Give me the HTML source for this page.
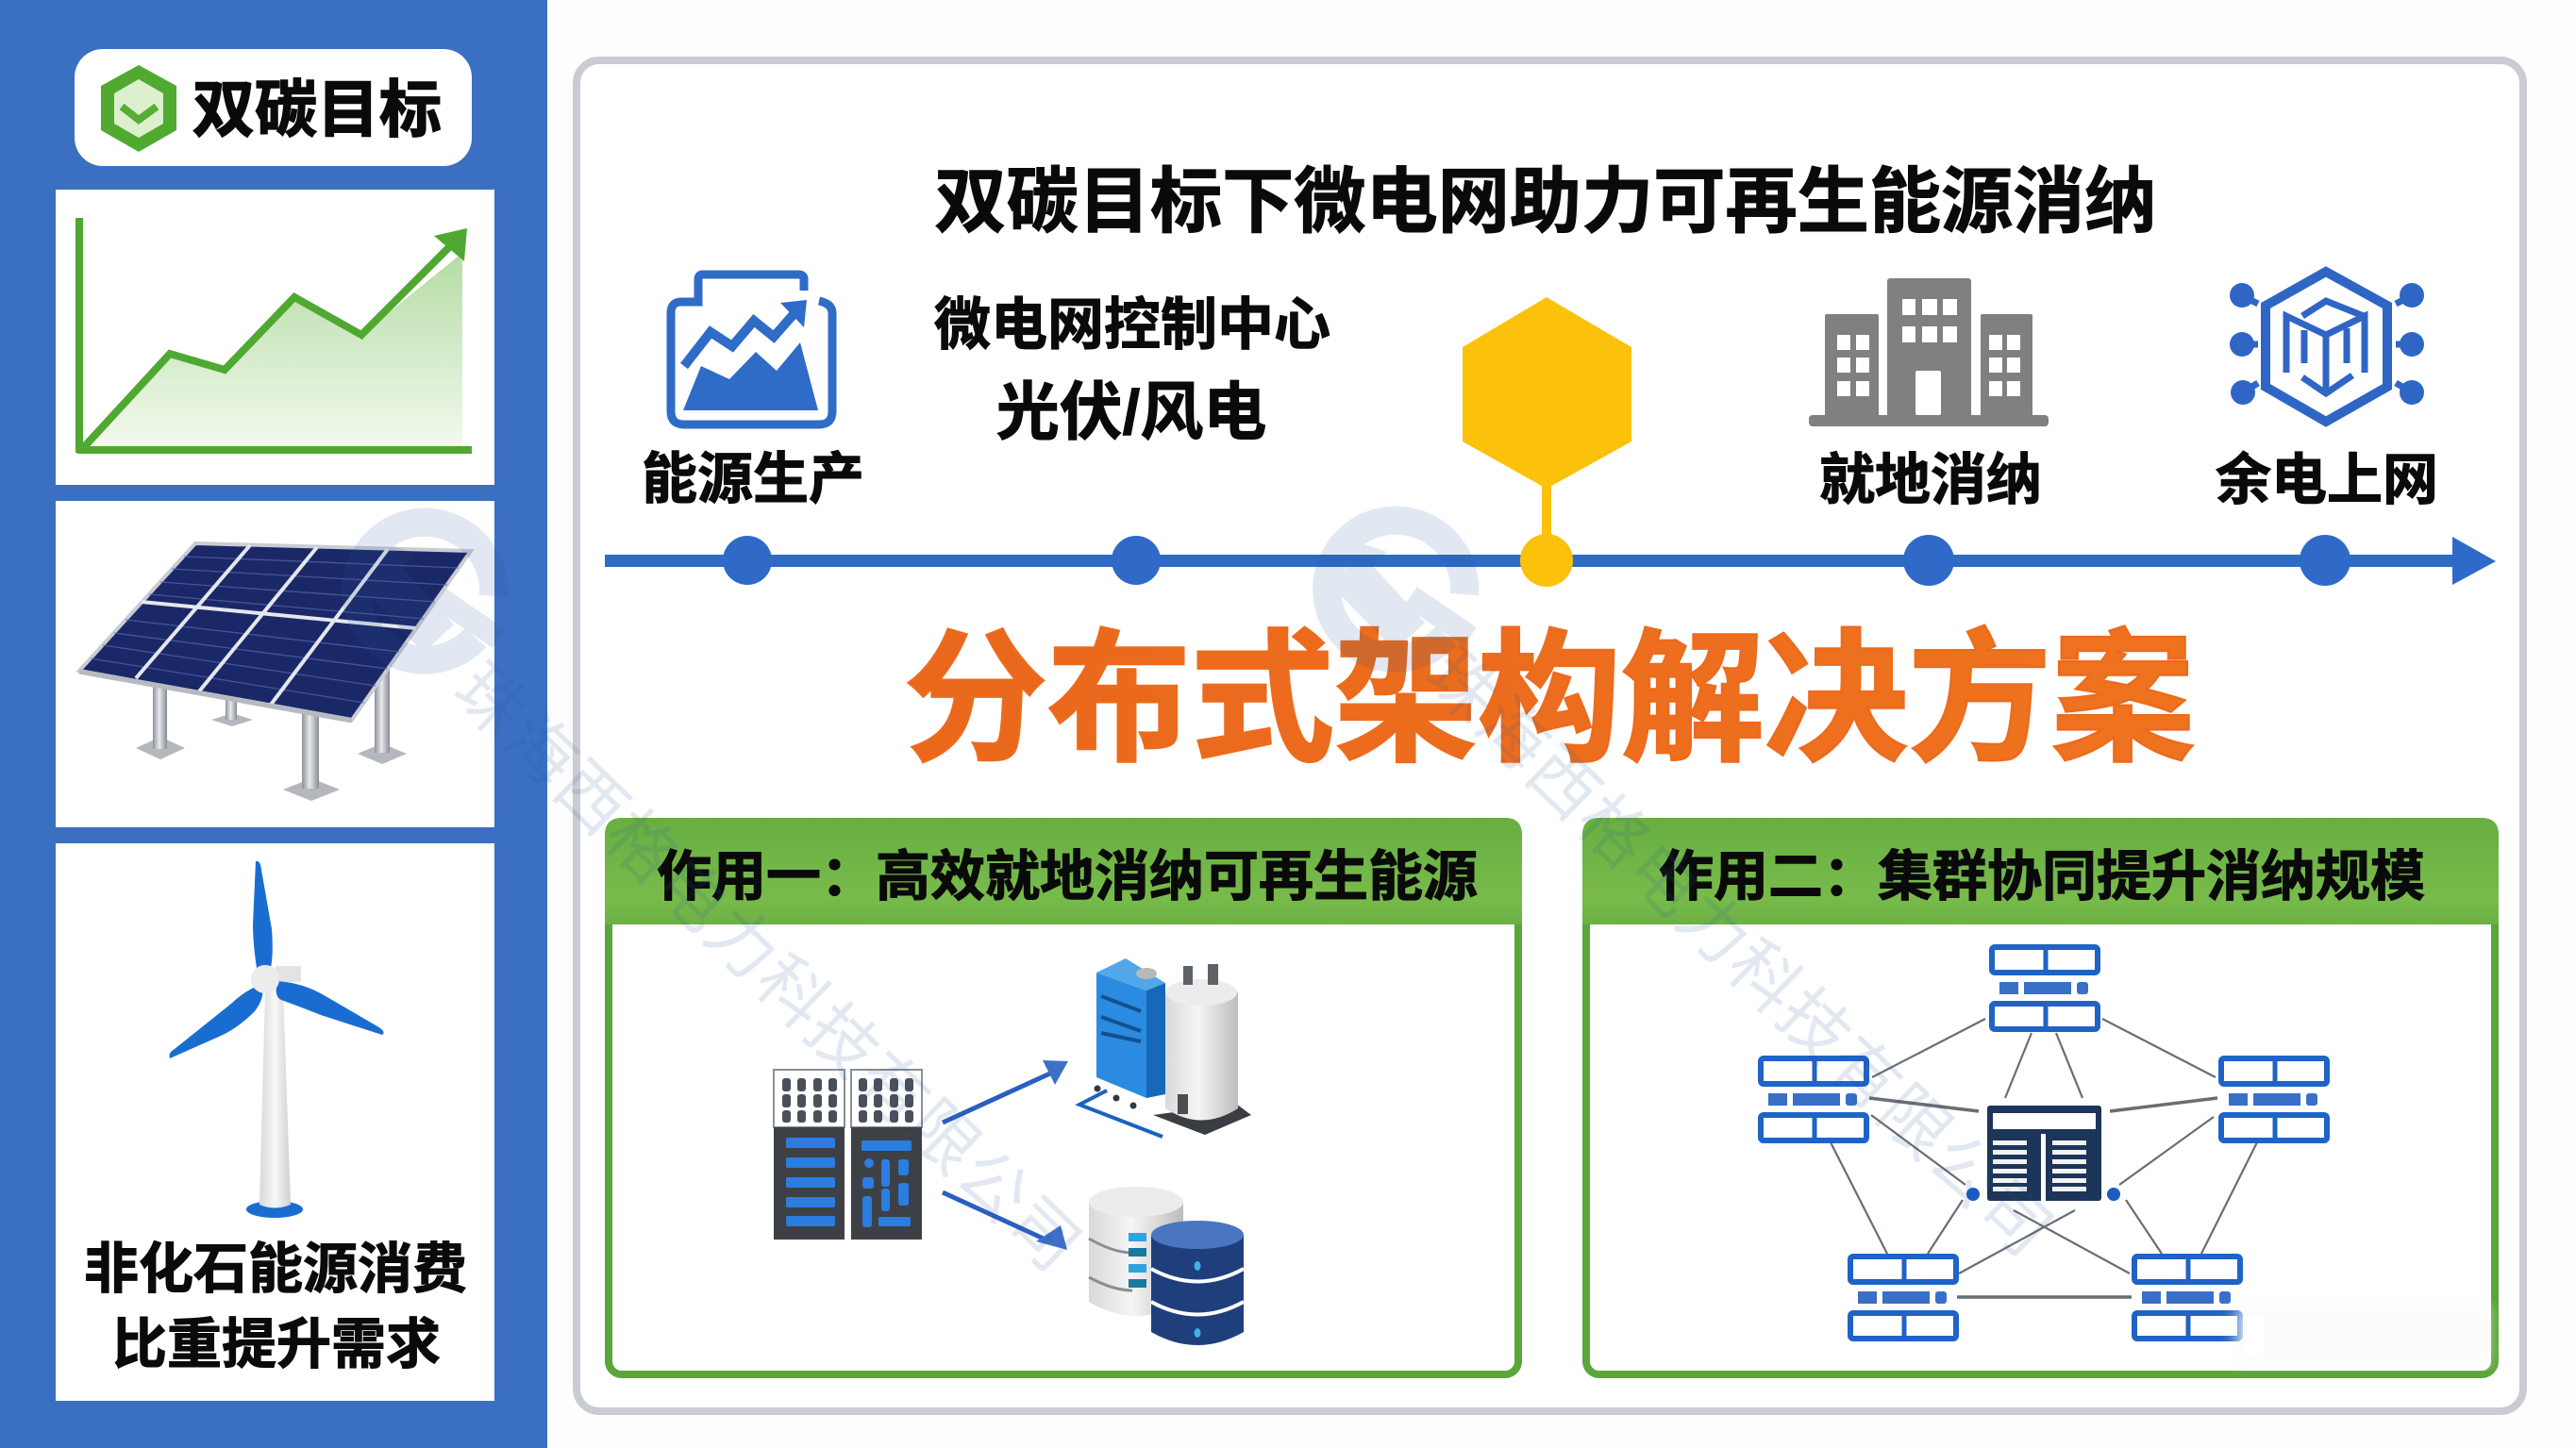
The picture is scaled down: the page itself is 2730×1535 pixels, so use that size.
<!DOCTYPE html>
<html lang="zh"><head><meta charset="utf-8"><title>双碳目标下微电网助力可再生能源消纳</title>
<style>
html,body{margin:0;padding:0;background:#fff;width:2730px;height:1535px;overflow:hidden}
svg{display:block}
text{font-family:"Liberation Sans","Noto Sans CJK SC",sans-serif;font-weight:700;fill:#0a0a0a;stroke:#0a0a0a;stroke-width:1.1px}
</style></head><body>
<svg xmlns="http://www.w3.org/2000/svg" width="2730" height="1535" viewBox="0 0 2730 1535">
<defs>
<linearGradient id="area" x1="0" y1="0" x2="0" y2="1"><stop offset="0" stop-color="#b4dca4"/><stop offset="1" stop-color="#f3faef"/></linearGradient>
<linearGradient id="hdr" x1="0" y1="0" x2="0" y2="1"><stop offset="0" stop-color="#68ae42"/><stop offset=".75" stop-color="#78bb4b"/><stop offset="1" stop-color="#6cb145"/></linearGradient>
<linearGradient id="org" x1="0" y1="0" x2="1" y2="0"><stop offset="0" stop-color="#ea671c"/><stop offset="1" stop-color="#ef731f"/></linearGradient>
<linearGradient id="steel" x1="0" y1="0" x2="1" y2="0"><stop offset="0" stop-color="#8c9198"/><stop offset=".45" stop-color="#e8eaec"/><stop offset="1" stop-color="#878c92"/></linearGradient>
<linearGradient id="tower" x1="0" y1="0" x2="1" y2="0"><stop offset="0" stop-color="#d8d8d8"/><stop offset=".5" stop-color="#f8f8f8"/><stop offset="1" stop-color="#cfcfcf"/></linearGradient>
<linearGradient id="cyl" x1="0" y1="0" x2="1" y2="0"><stop offset="0" stop-color="#d9d9d9"/><stop offset=".45" stop-color="#f5f5f5"/><stop offset="1" stop-color="#bdbdbd"/></linearGradient>
<filter id="bl"><feGaussianBlur stdDeviation="9"/></filter>
<g id="n">
<rect x="3" y="3" width="112" height="27" rx="3" fill="#fff" stroke="#1f63c6" stroke-width="6"/>
<rect x="3" y="63" width="112" height="27" rx="3" fill="#fff" stroke="#1f63c6" stroke-width="6"/>
<path d="M60 2V31M60 62V91" stroke="#1f63c6" stroke-width="5"/>
<rect x="11" y="40" width="20" height="13" fill="#3a6fc8"/><rect x="37" y="40" width="50" height="13" fill="#3a6fc8"/><rect x="93" y="40" width="12" height="13" rx="3" fill="#3a6fc8"/>
</g>
<g id="wm" fill="none" stroke="#2a5a96">
<path d="M1533 674A73 73 0 1 1 1552 630" stroke-width="30"/>
<path d="M1415 625L1478 690L1510 660L1455 600L1470 585L1440 575Z" fill="#2a5a96" stroke="none"/>
<path d="M1495 632L1558 675" stroke-width="24"/>
</g>
</defs>

<rect width="2730" height="1535" fill="#fdfdfd"/>
<!-- sidebar -->
<rect width="580" height="1535" fill="#3b6fc1"/>
<rect x="79" y="52" width="421" height="124" rx="30" fill="#fff"/>
<polygon points="147,69 187,91 187,138 147,161 107,138 107,91" fill="#50aa30"/>
<polygon points="147,84 173,99 173,131 147,146 121,131 121,99" fill="#dcefcf"/>
<path d="M129 113L147 127L166 113" fill="none" stroke="#58ae33" stroke-width="8"/>
<text x="336" y="139" font-size="66" text-anchor="middle" style="stroke-width:1.6px">双碳目标</text>

<rect x="59" y="201" width="465" height="313" fill="#fff"/>
<polygon points="89,476 180,374 238,392 312,314 383,355 490,268 490,476" fill="url(#area)"/>
<path d="M84 231V480M82 477H500" stroke="#4fa832" stroke-width="8" fill="none"/>
<path d="M88 475L180 375L238 392L312 315L383 355L480 258" fill="none" stroke="#4fa832" stroke-width="8"/>
<polygon points="495,242 460,250 492,277" fill="#4fa832"/>

<rect x="59" y="531" width="465" height="346" fill="#fff"/>
<polygon points="170,781 196,793 170,805 144,793" fill="#b4b8bd"/><polygon points="246,756 268,763 246,770 224,763" fill="#b4b8bd"/><polygon points="330,825 360,837 330,849 300,837" fill="#b4b8bd"/><polygon points="405,788 431,799 405,810 379,799" fill="#b4b8bd"/>
<rect x="162" y="722" width="15" height="72" fill="url(#steel)"/><rect x="239" y="735" width="12" height="28" fill="url(#steel)"/><rect x="320" y="750" width="18" height="86" fill="url(#steel)"/><rect x="397" y="700" width="16" height="98" fill="url(#steel)"/>
<polygon points="207,576 499,584 373,763 84,711" fill="#1b2868" stroke="#c9cdd3" stroke-width="4"/>
<g stroke="#5767ac" stroke-width="1.3" opacity=".7">
<path d="M195 590L486 602M182 603L474 620M170 617L461 638M158 630L449 656M133 657L423 691M121 671L411 709M109 684L398 727M96 698L386 745"/>
</g>
<path d="M265 578L144 719M336 580L211 733M411 582L287 747M150 638L441 666" stroke="#e4e7ec" stroke-width="4" fill="none"/>
<path d="M84 712L373 764" stroke="#b6bac0" stroke-width="5"/>

<rect x="59" y="894" width="465" height="591" fill="#fff"/>
<ellipse cx="291" cy="1282" rx="30" ry="9" fill="#1a6dd0"/>
<path d="M281 1050H300L308 1277Q291 1284 275 1277Z" fill="url(#tower)"/>
<rect x="292" y="1024" width="27" height="17" rx="2" fill="#e3e3e3"/>
<path d="M271 913Q276 912 277 922L288 985Q290 1010 287 1026L272 1026Q268 1000 268 980Z" fill="#1a6dd0"/>
<path d="M180 1122Q178 1116 185 1112L245 1064Q262 1048 277 1044Q282 1056 270 1072Q252 1090 234 1098Z" fill="#1a6dd0"/>
<path d="M405 1097Q410 1094 400 1088L345 1056Q322 1042 294 1040Q290 1056 298 1060Q320 1068 340 1076Z" fill="#1a6dd0"/>
<circle cx="281" cy="1038" r="15" fill="#ececec"/>
<text x="292" y="1365" font-size="58" text-anchor="middle">非化石能源消费</text>
<text x="293" y="1445" font-size="58" text-anchor="middle">比重提升需求</text>

<!-- main panel -->
<rect x="611" y="64" width="2063" height="1432" rx="24" fill="#fff" stroke="#c9ccd2" stroke-width="8"/>
<text x="1638" y="240" font-size="76.2" text-anchor="middle">双碳目标下微电网助力可再生能源消纳</text>

<!-- icon 1 -->
<path d="M852 308V296Q852 291 846 291H745Q740 291 740 296V320H722Q711 320 711 332V436Q711 450 725 450H868Q882 450 882 436V332Q882 322 868 319" fill="none" stroke="#2f6cc7" stroke-width="9"/>
<polygon points="724,435 743,388 773,402 801,373 823,393 848,363 867,435" fill="#2f6cc7"/>
<path d="M725 388L753 352L776 367L799 340L820 357L842 332" fill="none" stroke="#2f6cc7" stroke-width="10"/>
<polygon points="855,318 827,321 852,347" fill="#2f6cc7"/>
<text x="798" y="528" font-size="59" text-anchor="middle">能源生产</text>
<text x="1200" y="365" font-size="60" text-anchor="middle">微电网控制中心</text>
<text x="1199" y="460" font-size="67" text-anchor="middle">光伏/风电</text>

<!-- hex -->
<polygon points="1639,315 1729,368 1729,468 1639,518 1550,468 1550,368" fill="#fcc10b"/>
<rect x="1634" y="515" width="10" height="58" fill="#fcc10b"/>

<!-- building -->
<g fill="#808080"><rect x="2000" y="295" width="89" height="150" rx="3"/><rect x="1934" y="333" width="57" height="112" rx="2"/><rect x="2099" y="333" width="55" height="112" rx="2"/><rect x="1917" y="440" width="254" height="12" rx="4"/></g>
<g fill="#fff"><rect x="2016" y="317" width="14" height="17"/><rect x="2037" y="317" width="16" height="17"/><rect x="2059" y="317" width="15" height="17"/><rect x="2016" y="346" width="14" height="17"/><rect x="2037" y="346" width="16" height="17"/><rect x="2059" y="346" width="15" height="17"/><rect x="2030" y="393" width="27" height="47" rx="2"/>
<rect x="1947" y="355" width="14" height="16"/><rect x="1967" y="355" width="14" height="16"/><rect x="1947" y="379" width="14" height="16"/><rect x="1967" y="379" width="14" height="16"/><rect x="1947" y="404" width="14" height="16"/><rect x="1967" y="404" width="14" height="16"/>
<rect x="2108" y="355" width="14" height="16"/><rect x="2127" y="355" width="14" height="16"/><rect x="2108" y="379" width="14" height="16"/><rect x="2127" y="379" width="14" height="16"/><rect x="2108" y="404" width="14" height="16"/><rect x="2127" y="404" width="14" height="16"/></g>
<text x="2046" y="529" font-size="59" text-anchor="middle">就地消纳</text>

<!-- network hex -->
<g fill="none" stroke="#2f66c6">
<polygon points="2465,288 2530,324 2530,410 2465,447 2401,410 2401,324" stroke-width="10"/>
<path d="M2440 335L2465 319L2505 335M2423 395V335L2465 355L2506 335V395M2465 355V415M2442 385V350M2487 385V348M2440 400L2465 417L2493 398" stroke-width="7"/>
<path d="M2375 313L2393 322M2375 365H2393M2377 416L2393 406M2557 313L2539 322M2557 365H2539M2557 416L2539 406" stroke-width="7"/>
</g>
<g fill="#2f66c6"><circle cx="2376" cy="313" r="13"/><circle cx="2376" cy="365" r="13"/><circle cx="2377" cy="416" r="13"/><circle cx="2556" cy="313" r="13"/><circle cx="2556" cy="365" r="13"/><circle cx="2556" cy="416" r="13"/></g>
<text x="2466" y="529" font-size="59" text-anchor="middle">余电上网</text>

<!-- timeline -->
<rect x="641" y="588" width="1962" height="13" fill="#2f6ac8"/>
<polygon points="2599,569 2645,595 2599,620" fill="#2f6ac8"/>
<circle cx="792" cy="594" r="26" fill="#2f6ac8"/><circle cx="1204" cy="594" r="26" fill="#2f6ac8"/><circle cx="2044" cy="594" r="27" fill="#2f6ac8"/><circle cx="2464" cy="594" r="27" fill="#2f6ac8"/>
<circle cx="1639" cy="594" r="28" fill="#fcc10b"/>

<text x="1642" y="794" font-size="152" text-anchor="middle" style="fill:url(#org);stroke:#ec6b1d;stroke-width:2.5px">分布式架构解决方案</text>

<!-- cards -->
<rect x="645" y="871" width="964" height="586" rx="14" fill="#fff" stroke="#5aa63a" stroke-width="8"/>
<path d="M641 980V885Q641 867 659 867H1595Q1613 867 1613 885V980Z" fill="url(#hdr)"/>
<text x="1131" y="949" font-size="58" text-anchor="middle">作用一：高效就地消纳可再生能源</text>
<rect x="1681" y="871" width="963" height="586" rx="14" fill="#fff" stroke="#5aa63a" stroke-width="8"/>
<path d="M1677 980V885Q1677 867 1695 867H2630Q2648 867 2648 885V980Z" fill="url(#hdr)"/>
<text x="2164" y="949" font-size="58" text-anchor="middle">作用二：集群协同提升消纳规模</text>

<!-- rack -->
<rect x="820" y="1134" width="75" height="61" fill="#fff" stroke="#8b8f94" stroke-width="2"/><rect x="902" y="1134" width="75" height="61" fill="#fff" stroke="#8b8f94" stroke-width="2"/>
<rect x="820" y="1195" width="75" height="119" fill="#3d4146"/><rect x="902" y="1195" width="75" height="119" fill="#3d4146"/>
<g fill="#4a5059">
<rect x="829" y="1143" width="9" height="14" rx="3"/><rect x="845" y="1143" width="9" height="14" rx="3"/><rect x="862" y="1143" width="9" height="14" rx="3"/><rect x="878" y="1143" width="9" height="14" rx="3"/>
<rect x="829" y="1160" width="9" height="14" rx="3"/><rect x="845" y="1160" width="9" height="14" rx="3"/><rect x="862" y="1160" width="9" height="14" rx="3"/><rect x="878" y="1160" width="9" height="14" rx="3"/>
<rect x="829" y="1177" width="9" height="13" rx="3"/><rect x="845" y="1177" width="9" height="13" rx="3"/><rect x="862" y="1177" width="9" height="13" rx="3"/><rect x="878" y="1177" width="9" height="13" rx="3"/>
<rect x="910" y="1143" width="9" height="14" rx="3"/><rect x="926" y="1143" width="9" height="14" rx="3"/><rect x="943" y="1143" width="9" height="14" rx="3"/><rect x="959" y="1143" width="9" height="14" rx="3"/>
<rect x="910" y="1160" width="9" height="14" rx="3"/><rect x="926" y="1160" width="9" height="14" rx="3"/><rect x="943" y="1160" width="9" height="14" rx="3"/><rect x="959" y="1160" width="9" height="14" rx="3"/>
<rect x="910" y="1177" width="9" height="13" rx="3"/><rect x="926" y="1177" width="9" height="13" rx="3"/><rect x="943" y="1177" width="9" height="13" rx="3"/><rect x="959" y="1177" width="9" height="13" rx="3"/>
</g>
<g fill="#2b7de0">
<rect x="833" y="1206" width="52" height="11" rx="2"/><rect x="833" y="1227" width="52" height="11" rx="2"/><rect x="833" y="1248" width="52" height="11" rx="2"/><rect x="833" y="1269" width="52" height="11" rx="2"/><rect x="833" y="1289" width="52" height="11" rx="2"/>
<rect x="913" y="1209" width="53" height="11" rx="2"/><circle cx="921" cy="1233" r="5"/><rect x="934" y="1229" width="9" height="29" rx="3"/><rect x="952" y="1229" width="11" height="17" rx="3"/><rect x="914" y="1248" width="12" height="12" rx="3"/><rect x="934" y="1260" width="9" height="24" rx="3"/><rect x="952" y="1254" width="11" height="24" rx="3"/><rect x="914" y="1268" width="10" height="33" rx="3"/><rect x="931" y="1290" width="34" height="10" rx="2"/>
</g>
<!-- arrows -->
<path d="M999 1190L1115 1137M999 1264L1108 1314" stroke="#2a5fc0" stroke-width="5" fill="none"/>
<polygon points="1132,1125 1105,1124 1118,1150" fill="#3f70c8"/>
<polygon points="1131,1325 1124,1299 1098,1316" fill="#3f70c8"/>

<!-- tank device -->
<polygon points="1222,1182 1310,1170 1326,1182 1277,1203" fill="#3a3d42"/>
<polygon points="1162,1031 1215,1050 1215,1164 1162,1142" fill="#2a8be0"/>
<polygon points="1162,1031 1193,1016 1235,1042 1215,1050" fill="#52a7ea"/>
<polygon points="1215,1050 1235,1042 1235,1160 1215,1164" fill="#1668b8"/>
<ellipse cx="1215" cy="1032" rx="11" ry="6" fill="#b9b9b4"/>
<path d="M1167 1056L1209 1072M1167 1078L1209 1093M1167 1095L1209 1104" stroke="#12518f" stroke-width="4"/>
<path d="M1235 1052V1175Q1273 1200 1312 1175V1052Z" fill="url(#cyl)"/>
<ellipse cx="1273" cy="1052" rx="38" ry="14" fill="#ececec"/>
<rect x="1254" y="1024" width="10" height="20" fill="#5c6268"/><rect x="1280" y="1022" width="11" height="22" fill="#5c6268"/>
<rect x="1248" y="1160" width="11" height="21" fill="#4a4d52"/>
<path d="M1173 1156L1144 1171L1232 1205" fill="none" stroke="#1a62c2" stroke-width="4"/>
<g fill="#33383f"><circle cx="1163" cy="1154" r="3.5"/><circle cx="1183" cy="1164" r="3.5"/><circle cx="1201" cy="1172" r="3.5"/></g>

<!-- database -->
<path d="M1154 1274V1380Q1204 1410 1254 1380V1274Z" fill="url(#cyl)"/>
<ellipse cx="1204" cy="1274" rx="50" ry="16" fill="#ececec"/>
<path d="M1154 1313Q1180 1328 1200 1328M1154 1354Q1180 1368 1200 1368" fill="none" stroke="#8e8e8e" stroke-width="3"/>
<rect x="1196" y="1307" width="19" height="9" fill="#2fa3dc"/><rect x="1196" y="1323" width="19" height="9" fill="#187a9c"/><rect x="1196" y="1340" width="19" height="9" fill="#2fa3dc"/><rect x="1196" y="1356" width="19" height="9" fill="#187a9c"/>
<path d="M1220 1309V1412Q1269 1440 1318 1412V1309Z" fill="#1f3f7c"/>
<ellipse cx="1269" cy="1309" rx="49" ry="15" fill="#4a75c0"/>
<path d="M1220 1345Q1269 1372 1318 1345M1220 1380Q1269 1407 1318 1380" fill="none" stroke="#fff" stroke-width="4"/>
<ellipse cx="1269" cy="1342" rx="3.5" ry="5" fill="#3fb0ea"/><ellipse cx="1269" cy="1413" rx="3.5" ry="5" fill="#3fb0ea"/>

<!-- network -->
<g stroke="#6a6d72" stroke-width="2.2" fill="none">
<path d="M2104 1080L1984 1142M2228 1080L2348 1142M2153 1095L2125 1164M2179 1095L2207 1164M1983 1182L2083 1256M2346 1184L2246 1256M1940 1211L2000 1329M2392 1211L2333 1329M2080 1272L2043 1329M2253 1272L2291 1329M2199 1283L2076 1350M2134 1283L2257 1350"/>
<path d="M1981 1164L2097 1178M2236 1178L2350 1164M2074 1375H2259" stroke-width="3.5"/>
</g>
<use href="#n" x="2108" y="1001"/><use href="#n" x="1863" y="1119"/><use href="#n" x="2351" y="1119"/><use href="#n" x="1958" y="1329"/><use href="#n" x="2259" y="1329"/>
<rect x="2106" y="1172" width="121" height="101" rx="3" fill="#1c3558"/>
<rect x="2112" y="1180" width="109" height="17" fill="#fff"/>
<rect x="2163" y="1202" width="5" height="71" fill="#fff"/>
<g fill="#f2f2f2"><rect x="2112" y="1209" width="36" height="5"/><rect x="2112" y="1219" width="36" height="5"/><rect x="2112" y="1229" width="36" height="5"/><rect x="2112" y="1239" width="36" height="5"/><rect x="2112" y="1249" width="36" height="5"/><rect x="2112" y="1258" width="36" height="5"/>
<rect x="2175" y="1209" width="36" height="5"/><rect x="2175" y="1219" width="36" height="5"/><rect x="2175" y="1229" width="36" height="5"/><rect x="2175" y="1239" width="36" height="5"/><rect x="2175" y="1249" width="36" height="5"/><rect x="2175" y="1258" width="36" height="5"/></g>
<circle cx="2091" cy="1266" r="7" fill="#1a5cc0"/><circle cx="2240" cy="1266" r="7" fill="#1a5cc0"/>

<!-- smudge -->
<rect x="2372" y="1385" width="262" height="62" fill="#fbfbfb" filter="url(#bl)"/>
<rect x="2379" y="1395" width="20" height="40" fill="#fff"/>

<!-- watermark overlay -->
<g opacity=".14">
<use href="#wm" x="-1029" y="2"/><use href="#wm"/>
<text transform="translate(477,736) rotate(44)" font-size="72" style="fill:#2a5a96;stroke:none;font-weight:400;letter-spacing:2px">珠海西格电力科技有限公司</text>
<text transform="translate(1507,720) rotate(44)" font-size="72" style="fill:#2a5a96;stroke:none;font-weight:400;letter-spacing:2px">珠海西格电力科技有限公司</text>
</g>
</svg>
</body></html>
